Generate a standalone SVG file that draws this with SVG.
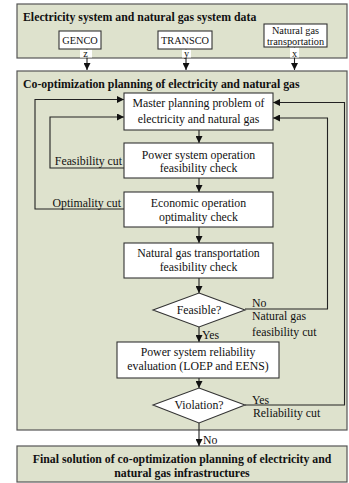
<svg xmlns="http://www.w3.org/2000/svg" width="349" height="483" viewBox="0 0 349 483" font-family="'Liberation Serif', 'Times New Roman', serif">
<style>
.panel{fill:#dee2cd;stroke:#555;stroke-width:1.2}
.node{fill:#fff;stroke:#333;stroke-width:1.1}
.t{font-size:11.8px;fill:#111;text-anchor:middle}
.tl{font-size:11.8px;fill:#111}
.b{font-size:11.8px;font-weight:bold;fill:#111}
.s{font-size:10.3px;fill:#111;text-anchor:middle}
.c{fill:none;stroke:#222;stroke-width:1.1}
</style>
<defs>
<marker id="ah" viewBox="0 0 10 10" refX="10" refY="5" markerWidth="7" markerHeight="7" markerUnits="userSpaceOnUse" orient="auto">
<path d="M0,0 L10,5 L0,10 z" fill="#111"/>
</marker>
</defs>
<rect width="349" height="483" fill="#fff"/>
<g id="panel-data">
<rect class="panel" x="17" y="4" width="330" height="54"/>
<text class="b" x="23" y="21">Electricity system and natural gas system data</text>
</g>
<g id="panel-coopt">
<rect class="panel" x="17" y="71" width="330" height="359"/>
<text class="b" x="23" y="88">Co-optimization planning of electricity and natural gas</text>
</g>
<g id="panel-final">
<rect class="panel" x="17" y="446" width="330" height="36"/>
<text class="b" x="182" y="463" text-anchor="middle">Final solution of co-optimization planning of electricity and</text>
<text class="b" x="182" y="477" text-anchor="middle">natural gas infrastructures</text>
</g>
<g id="connectors">
<path class="c" d="M87,49 V70" marker-end="url(#ah)"/>
<path class="c" d="M186,49 V70" marker-end="url(#ah)"/>
<path class="c" d="M294.5,47 V70" marker-end="url(#ah)"/>
<rect x="80" y="49.5" width="12" height="8" fill="#fff"/>
<rect x="182" y="49.5" width="9" height="8" fill="#fff"/>
<rect x="290" y="47.5" width="9" height="10" fill="#fff"/>
<text class="s" x="85.5" y="57">z</text>
<text class="s" x="186.5" y="57">y</text>
<text class="s" x="294.5" y="57">x</text>
<path class="c" d="M199,130 V143" marker-end="url(#ah)"/>
<path class="c" d="M199,178 V192" marker-end="url(#ah)"/>
<path class="c" d="M199,227 V243" marker-end="url(#ah)"/>
<path class="c" d="M199,278 V293" marker-end="url(#ah)"/>
<path class="c" d="M199,327 V342" marker-end="url(#ah)"/>
<path class="c" d="M199,378 V388" marker-end="url(#ah)"/>
<path class="c" d="M199,423 V446" marker-end="url(#ah)"/>
<path class="c" d="M124,168 H50 V117 H124" marker-end="url(#ah)"/>
<path class="c" d="M124,209 H35 V99.5 H124" marker-end="url(#ah)"/>
<path class="c" d="M245,309 H327.5 V118 H273" marker-end="url(#ah)"/>
<path class="c" d="M245,405 H344.5 V102.5 H273" marker-end="url(#ah)"/>
<text class="tl" x="122" y="165" text-anchor="end">Feasibility cut</text>
<text class="tl" x="121" y="207" text-anchor="end">Optimality cut</text>
<text class="tl" x="252" y="307">No</text>
<text class="tl" x="252" y="320">Natural gas</text>
<text class="tl" x="252" y="336">feasibility cut</text>
<text class="tl" x="202" y="339">Yes</text>
<text class="tl" x="252" y="404">Yes</text>
<text class="tl" x="253" y="417">Reliability cut</text>
<text class="tl" x="203" y="444">No</text>
</g>
<g id="genco">
<rect class="node" x="59" y="31" width="42" height="18"/>
<text class="s" x="80" y="43.5">GENCO</text>
</g>
<g id="transco">
<rect class="node" x="158" y="31" width="54" height="18"/>
<text class="s" x="185" y="43.5">TRANSCO</text>
</g>
<g id="ng-transport">
<rect class="node" x="264" y="24" width="63" height="23"/>
<text class="s" x="295.5" y="33.5">Natural gas</text>
<text class="s" x="295.5" y="45">transportation</text>
</g>
<g id="master">
<rect class="node" x="124" y="93" width="149" height="37"/>
<text class="t" x="198.5" y="107">Master planning problem of</text>
<text class="t" x="198.5" y="123">electricity and natural gas</text>
</g>
<g id="power-feas">
<rect class="node" x="124" y="143" width="149" height="35"/>
<text class="t" x="198.5" y="158.5">Power system operation</text>
<text class="t" x="198.5" y="172">feasibility check</text>
</g>
<g id="econ-opt">
<rect class="node" x="124" y="192" width="149" height="35"/>
<text class="t" x="198.5" y="207">Economic operation</text>
<text class="t" x="198.5" y="220.5">optimality check</text>
</g>
<g id="ng-feas">
<rect class="node" x="124" y="243" width="149" height="35"/>
<text class="t" x="198.5" y="257">Natural gas transportation</text>
<text class="t" x="198.5" y="270.5">feasibility check</text>
</g>
<g id="feasible">
<polygon class="node" points="199,293 245,310 199,327 153,310"/>
<text class="t" x="199" y="314">Feasible?</text>
</g>
<g id="reliability">
<rect class="node" x="117" y="342" width="162" height="36"/>
<text class="t" x="198" y="356">Power system reliability</text>
<text class="t" x="198" y="370">evaluation (LOEP and EENS)</text>
</g>
<g id="violation">
<polygon class="node" points="199,388 245,405 199,423 153,405"/>
<text class="t" x="199" y="409">Violation?</text>
</g>
</svg>
